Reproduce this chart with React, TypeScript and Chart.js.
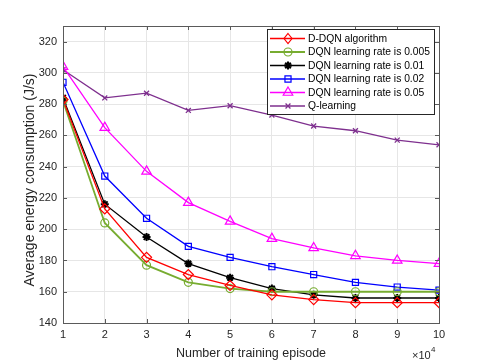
import React, { useEffect, useRef } from "react";
import { Chart, registerables } from "chart.js";

Chart.register(...registerables);

const episodes = [1, 2, 3, 4, 5, 6, 7, 8, 9, 10];
const ddqn = [283, 213, 182, 171, 164, 158, 155, 153, 153, 153];
const dqn0005 = [282, 204, 177, 166, 162, 160, 160, 160, 160, 160];
const dqn001 = [284, 216, 195, 178, 169, 162, 158, 156, 156, 156];
const dqn002 = [294, 234, 207, 189, 182, 176, 171, 166, 163, 161];
const dqn005 = [304, 265, 237, 217, 205, 194, 188, 183, 180, 178];
const qLearning = [302, 284, 287, 276, 279, 273, 266, 263, 257, 254];

const seriesNames = [
  "D-DQN algorithm",
  "DQN learning rate is 0.005",
  "DQN learning rate is 0.01",
  "DQN learning rate is 0.02",
  "DQN learning rate is 0.05",
  "Q-learning",
];
const seriesValues = [ddqn, dqn0005, dqn001, dqn002, dqn005, qLearning];
const seriesColors = ["#ff0000", "#77ac30", "#000000", "#0000ff", "#ff00ff", "#7e2f8e"];
const seriesMarkers = ["rectRot", "circle", "star", "rect", "triangle", "crossRot"];
const markerRadius = [5, 4, 4, 4.3, 5.5, 3.5];
const lineWidths = [1.3, 1.8, 1.3, 1.3, 1.3, 1.3];
const markerWidths = [1.2, 1.2, 2, 1.2, 1.2, 1.3];

const yMin = 140;
const yMax = 330;
const yStep = 20;
const yLabelMax = 320;
const xMin = 1;
const xMax = 10;

const xTitle = "Number of training episode";
const yTitle = "Average energy consumption (J/s)";
const fontFamily = "'Liberation Sans', Arial, Helvetica, sans-serif";

function drawMarker(ctx: CanvasRenderingContext2D, style: string, x: number, y: number, r: number) {
  ctx.beginPath();
  switch (style) {
    case "rectRot":
      ctx.moveTo(x, y - r);
      ctx.lineTo(x + r * 0.8, y);
      ctx.lineTo(x, y + r);
      ctx.lineTo(x - r * 0.8, y);
      ctx.closePath();
      break;
    case "circle":
      ctx.arc(x, y, r, 0, Math.PI * 2);
      break;
    case "rect": {
      const s = r * Math.SQRT1_2;
      ctx.rect(x - s, y - s, 2 * s, 2 * s);
      break;
    }
    case "triangle": {
      const h = r * 0.866;
      ctx.moveTo(x, y - r);
      ctx.lineTo(x + h, y + r * 0.5);
      ctx.lineTo(x - h, y + r * 0.5);
      ctx.closePath();
      break;
    }
    case "star":
      ctx.moveTo(x - r, y);
      ctx.lineTo(x + r, y);
      ctx.moveTo(x, y - r);
      ctx.lineTo(x, y + r);
      ctx.moveTo(x - r * 0.7, y - r * 0.7);
      ctx.lineTo(x + r * 0.7, y + r * 0.7);
      ctx.moveTo(x - r * 0.7, y + r * 0.7);
      ctx.lineTo(x + r * 0.7, y - r * 0.7);
      break;
    case "crossRot":
      ctx.moveTo(x - r * 0.7, y - r * 0.7);
      ctx.lineTo(x + r * 0.7, y + r * 0.7);
      ctx.moveTo(x - r * 0.7, y + r * 0.7);
      ctx.lineTo(x + r * 0.7, y - r * 0.7);
      break;
  }
  ctx.stroke();
}

const decorPlugin = {
  id: "decor",
  afterDatasetsDraw(chart: any) {
    const ctx: CanvasRenderingContext2D = chart.ctx;
    const a = chart.chartArea;
    const xs = chart.scales.x;
    const ys = chart.scales.y;
    ctx.save();
    // box
    ctx.strokeStyle = "#5a5a5a";
    ctx.lineWidth = 1;
    ctx.strokeRect(Math.round(a.left) + 0.5, Math.round(a.top) + 0.5, Math.round(a.right - a.left), Math.round(a.bottom - a.top));
    // inward ticks
    const tl = 4;
    ctx.beginPath();
    for (const t of ys.ticks) {
      const py = Math.round(ys.getPixelForValue(t.value)) + 0.5;
      ctx.moveTo(a.left, py);
      ctx.lineTo(a.left + tl, py);
      ctx.moveTo(a.right, py);
      ctx.lineTo(a.right - tl, py);
    }
    for (const t of xs.ticks) {
      const px = Math.round(xs.getPixelForValue(t.value)) + 0.5;
      ctx.moveTo(px, a.bottom);
      ctx.lineTo(px, a.bottom - tl);
      ctx.moveTo(px, a.top);
      ctx.lineTo(px, a.top + tl);
    }
    ctx.stroke();

    // legend
    const lx = 267.5, ly = 29.5, lw = 167, lh = 85;
    ctx.fillStyle = "#ffffff";
    ctx.fillRect(lx, ly, lw, lh);
    ctx.strokeStyle = "#262626";
    ctx.lineWidth = 1;
    ctx.strokeRect(lx, ly, lw, lh);
    ctx.font = `10.3px ${fontFamily}`;
    ctx.textBaseline = "middle";
    ctx.textAlign = "left";
    seriesNames.forEach((name, i) => {
      const ry = 38.5 + i * 13.5;
      ctx.strokeStyle = seriesColors[i];
      ctx.lineWidth = lineWidths[i];
      ctx.beginPath();
      ctx.moveTo(270, ry);
      ctx.lineTo(305, ry);
      ctx.stroke();
      ctx.lineWidth = markerWidths[i];
      drawMarker(ctx, seriesMarkers[i], 288, ry, markerRadius[i]);
      ctx.fillStyle = "#000000";
      ctx.fillText(name, 308, ry + 0.5);
    });

    // axis titles
    ctx.fillStyle = "#262626";
    ctx.font = `12.5px ${fontFamily}`;
    ctx.textAlign = "center";
    ctx.textBaseline = "alphabetic";
    ctx.fillText(xTitle, (a.left + a.right) / 2, 357);
    ctx.save();
    ctx.translate(34, 180);
    ctx.rotate(-Math.PI / 2);
    ctx.font = `14px ${fontFamily}`;
    ctx.fillText(yTitle, 0, 0);
    ctx.restore();

    // x10^4
    ctx.textAlign = "left";
    ctx.font = `11px ${fontFamily}`;
    ctx.fillText("\u00d710", 412, 359);
    ctx.font = `8px ${fontFamily}`;
    ctx.fillText("4", 431, 352);
    ctx.restore();
  },
};

export default function App() {
  const canvasRef = useRef<HTMLCanvasElement | null>(null);

  useEffect(() => {
    const canvas = canvasRef.current;
    if (!canvas) return;
    const datasets = seriesNames.map((name, i) => ({
      label: name,
      data: episodes.map((e, j) => ({ x: e, y: seriesValues[i][j] })),
      borderColor: seriesColors[i],
      backgroundColor: "rgba(0,0,0,0)",
      borderWidth: lineWidths[i],
      pointStyle: seriesMarkers[i] as any,
      pointRadius: markerRadius[i],
      pointBorderWidth: markerWidths[i],
      pointBorderColor: seriesColors[i],
      pointBackgroundColor: "rgba(0,0,0,0)",
      tension: 0,
      fill: false,
    }));
    const chart = new Chart(canvas, {
      type: "line",
      data: { datasets },
      options: {
        animation: false,
        responsive: false,
        devicePixelRatio: 1,
        layout: { padding: { top: 26, right: 46, left: 0, bottom: 0 } },
        plugins: { legend: { display: false }, tooltip: { enabled: false } },
        scales: {
          x: {
            type: "linear",
            min: xMin,
            max: xMax,
            ticks: { stepSize: 1, color: "#262626", font: { family: fontFamily, size: 11 }, padding: 5, maxRotation: 0 },
            grid: { color: "#e6e6e6", drawTicks: false },
            border: { display: false },
            afterFit: (s: any) => { s.height = 40; },
          },
          y: {
            type: "linear",
            min: yMin,
            max: yMax,
            ticks: { stepSize: yStep, color: "#262626", font: { family: fontFamily, size: 11 }, padding: 6 },
            grid: { color: "#e6e6e6", drawTicks: false },
            border: { display: false },
            afterBuildTicks: (s: any) => { s.ticks = s.ticks.filter((t: any) => t.value <= yLabelMax); },
            afterFit: (s: any) => { s.width = 63; },
          },
        },
      },
      plugins: [decorPlugin],
    });
    return () => chart.destroy();
  }, []);

  return (
    <div style={{ position: "absolute", left: 0, top: 0, width: 485, height: 363, background: "#fff" }}>
      <canvas ref={canvasRef} width={485} height={363} style={{ display: "block" }} />
    </div>
  );
}
